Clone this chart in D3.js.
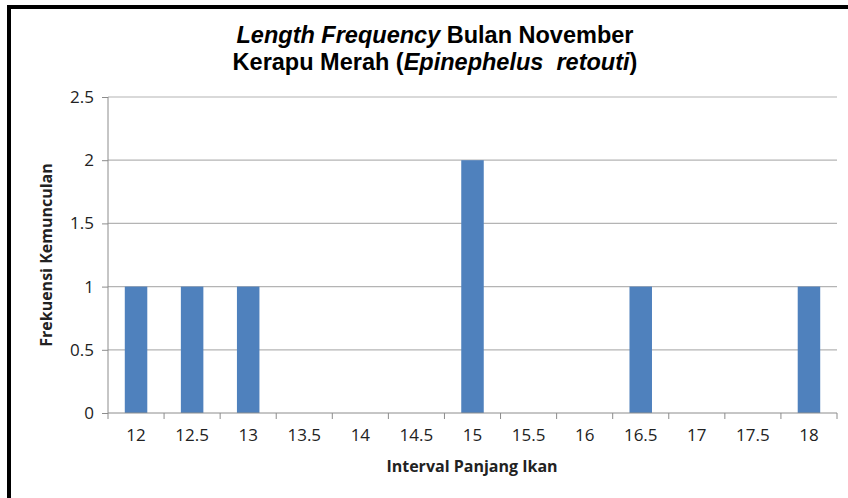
<!DOCTYPE html>
<html>
<head>
<meta charset="utf-8">
<script src="https://cdn.jsdelivr.net/npm/d3@7"></script>
<style>
  body { margin: 0; background: #fff; }
  .tick text { font-family: "Open Sans", "DejaVu Sans", sans-serif; font-size: 17px; fill: #222; }
</style>
</head>
<body>
<div id="vis-container"></div>
<script>
// data
var categories = ["12", "12.5", "13", "13.5", "14", "14.5", "15", "15.5", "16", "16.5", "17", "17.5", "18"];
var frequency = [1, 1, 1, 0, 0, 0, 2, 0, 0, 1, 0, 0, 1];
var yTicks = [0, 0.5, 1, 1.5, 2, 2.5];

var width = 848;
var height = 498;
var margins = { top: 97, right: 11, bottom: 85, left: 108 };
var visWidth = width - margins.left - margins.right;
var visHeight = height - margins.top - margins.bottom;

var svg = d3.select("#vis-container").append("svg")
    .attr("width", width)
    .attr("height", height);

// frame (left and top only, thick black)
svg.append("path")
    .attr("d", "M9,498 V7 H848")
    .attr("fill", "none")
    .attr("stroke", "#000")
    .attr("stroke-width", 4);

var viewport = svg.append("g")
    .attr("transform", "translate(" + margins.left + "," + margins.top + ")");

var xBand = d3.scaleBand().domain(categories).range([0, visWidth]);
var y = d3.scaleLinear().domain([0, 2.5]).range([visHeight, 0]);

// gridlines
viewport.append("g")
    .selectAll("line")
    .data(yTicks.filter(d => d > 0))
    .enter().append("line")
    .attr("x1", 0).attr("x2", visWidth)
    .attr("y1", d => y(d)).attr("y2", d => y(d))
    .attr("stroke", "#b4b4b4")
    .attr("stroke-width", 1.2);

// bars
viewport.append("g")
    .selectAll("rect")
    .data(frequency)
    .enter().append("rect")
    .attr("x", (d, i) => xBand(categories[i]) + xBand.bandwidth() / 2 - 11.25)
    .attr("width", 22.5)
    .attr("y", d => y(d))
    .attr("height", d => visHeight - y(d))
    .attr("fill", "#4f81bd");

// y axis
var yAxis = viewport.append("g")
    .call(d3.axisLeft(y).tickValues(yTicks).tickFormat(d3.format("")).tickSize(6).tickPadding(8));
yAxis.select(".domain").attr("stroke", "#8c8c8c").attr("d", "M0," + visHeight + "V0");
yAxis.selectAll(".tick line").attr("stroke", "#8c8c8c");

// x axis with ticks at band edges
var xAxis = viewport.append("g")
    .attr("transform", "translate(0," + visHeight + ")")
    .call(d3.axisBottom(xBand).tickSize(0).tickPadding(16));
xAxis.select(".domain").attr("stroke", "#8c8c8c").attr("d", "M0,0H" + visWidth);
xAxis.append("g")
    .selectAll("line")
    .data(d3.range(categories.length + 1))
    .enter().append("line")
    .attr("x1", i => i * xBand.step()).attr("x2", i => i * xBand.step())
    .attr("y1", 0).attr("y2", 6)
    .attr("stroke", "#8c8c8c");

// axis titles
svg.append("text")
    .attr("x", 472)
    .attr("y", 472)
    .attr("text-anchor", "middle")
    .attr("font-family", "Open Sans, sans-serif")
    .attr("font-size", 16)
    .attr("font-weight", "bold")
    .attr("fill", "#222")
    .text("Interval Panjang Ikan");

svg.append("text")
    .attr("transform", "translate(52,255) rotate(-90)")
    .attr("text-anchor", "middle")
    .attr("font-family", "Open Sans, sans-serif")
    .attr("font-size", 16)
    .attr("font-weight", "bold")
    .attr("fill", "#222")
    .text("Frekuensi Kemunculan");

// title
var title = svg.append("text")
    .attr("text-anchor", "middle")
    .attr("font-family", "Liberation Sans, Arial, sans-serif")
    .attr("font-size", 23.5)
    .attr("font-weight", "bold")
    .attr("fill", "#000")
    .style("white-space", "pre");
var l1 = title.append("tspan").attr("x", 435).attr("y", 43);
l1.append("tspan").attr("font-style", "italic").text("Length Frequency");
l1.append("tspan").text(" Bulan November");
var l2 = title.append("tspan").attr("x", 435).attr("y", 70);
l2.append("tspan").text("Kerapu Merah (");
l2.append("tspan").attr("font-style", "italic").text("Epinephelus  retouti");
l2.append("tspan").text(")");
</script>
</body>
</html>
